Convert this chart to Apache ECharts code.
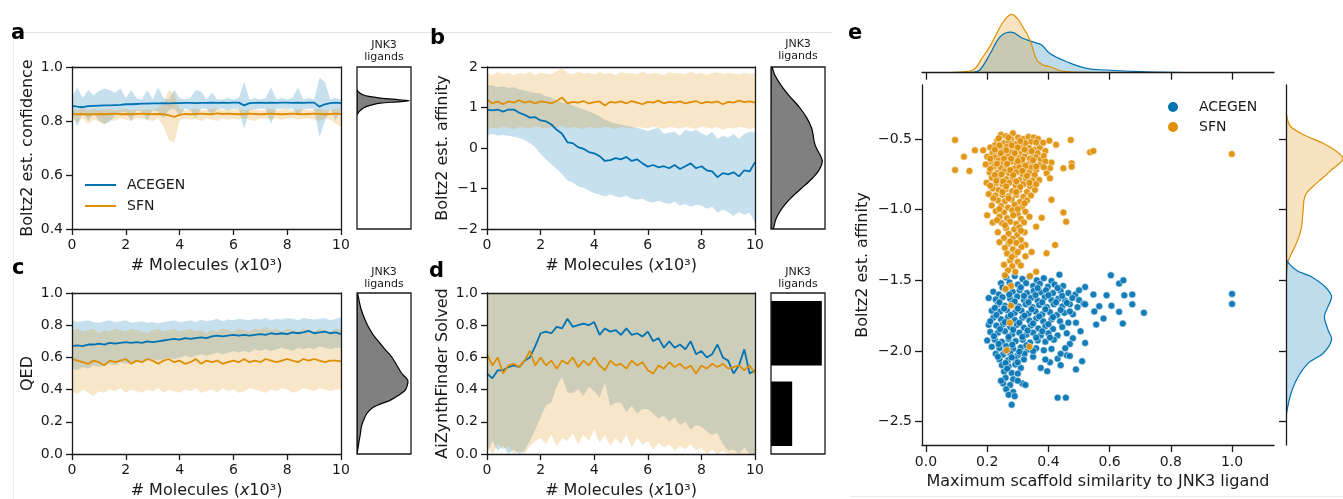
<!DOCTYPE html>
<html>
<head>
<meta charset="utf-8">
<title>ACEGEN vs SFN on JNK3</title>
<script src="https://cdn.jsdelivr.net/npm/echarts@6.0.0/dist/echarts.min.js"></script>
<style>
  html, body { margin: 0; padding: 0; background: #fff; }
  #chart { width: 1343px; height: 499px; }
</style>
</head>
<body>
<div id="chart"></div>
<script>
// ---- data: molecules generated (x10^3) ----
const xs = [0,0.2,0.4,0.6,0.8,1,1.2,1.4,1.6,1.8,2,2.2,2.4,2.6,2.8,3,3.2,3.4,3.6,3.8,4,4.2,4.4,4.6,4.8,5,5.2,5.4,5.6,5.8,6,6.2,6.4,6.6,6.8,7,7.2,7.4,7.6,7.8,8,8.2,8.4,8.6,8.8,9,9.2,9.4,9.6,9.8,10];

// a: Boltz2 est. confidence
const aAceMean = [0.856,0.853,0.851,0.855,0.856,0.857,0.858,0.858,0.859,0.860,0.862,0.862,0.863,0.864,0.864,0.865,0.865,0.866,0.865,0.866,0.866,0.867,0.867,0.866,0.867,0.867,0.868,0.867,0.868,0.867,0.868,0.868,0.858,0.866,0.867,0.868,0.867,0.868,0.867,0.868,0.868,0.867,0.868,0.867,0.868,0.868,0.853,0.862,0.866,0.868,0.866];
const aAceHi = [0.89,0.925,0.885,0.915,0.895,0.91,0.92,0.915,0.905,0.92,0.885,0.915,0.885,0.88,0.915,0.88,0.925,0.885,0.88,0.915,0.885,0.88,0.885,0.915,0.91,0.88,0.905,0.88,0.88,0.885,0.88,0.885,0.945,0.88,0.885,0.88,0.885,0.925,0.88,0.885,0.88,0.885,0.925,0.88,0.885,0.88,0.96,0.945,0.88,0.885,0.88];
const aAceLo = [0.83,0.78,0.835,0.80,0.83,0.80,0.79,0.795,0.82,0.83,0.835,0.80,0.84,0.835,0.80,0.84,0.835,0.81,0.84,0.845,0.82,0.845,0.84,0.81,0.845,0.845,0.82,0.845,0.845,0.84,0.845,0.845,0.77,0.84,0.845,0.845,0.845,0.79,0.845,0.845,0.845,0.845,0.82,0.845,0.845,0.845,0.74,0.80,0.845,0.80,0.845];
const aSfnMean = [0.826,0.825,0.826,0.824,0.825,0.826,0.825,0.826,0.827,0.825,0.826,0.825,0.826,0.827,0.826,0.825,0.826,0.825,0.821,0.815,0.823,0.826,0.825,0.826,0.827,0.826,0.825,0.828,0.826,0.827,0.826,0.825,0.826,0.827,0.826,0.825,0.826,0.827,0.826,0.825,0.826,0.827,0.826,0.825,0.826,0.827,0.826,0.825,0.826,0.827,0.826];
const aSfnHi = [0.845,0.84,0.85,0.84,0.845,0.84,0.843,0.845,0.84,0.842,0.845,0.84,0.843,0.842,0.845,0.84,0.85,0.86,0.915,0.90,0.845,0.84,0.843,0.845,0.84,0.842,0.845,0.848,0.84,0.843,0.842,0.845,0.84,0.843,0.845,0.84,0.842,0.845,0.84,0.843,0.845,0.84,0.842,0.845,0.84,0.843,0.845,0.84,0.842,0.845,0.845];
const aSfnLo = [0.81,0.795,0.81,0.79,0.805,0.80,0.785,0.805,0.80,0.81,0.805,0.80,0.81,0.808,0.805,0.80,0.81,0.78,0.73,0.72,0.80,0.81,0.805,0.808,0.80,0.81,0.805,0.80,0.81,0.805,0.808,0.805,0.81,0.805,0.80,0.81,0.808,0.805,0.81,0.805,0.808,0.81,0.805,0.808,0.81,0.805,0.80,0.81,0.805,0.79,0.78];

// b: Boltz2 est. affinity
const bAceMean = [0.95,0.93,0.95,0.90,0.95,0.95,0.87,0.82,0.75,0.76,0.68,0.66,0.58,0.45,0.35,0.14,0.12,0.02,-0.02,-0.10,-0.13,-0.20,-0.32,-0.30,-0.25,-0.28,-0.22,-0.32,-0.28,-0.38,-0.46,-0.42,-0.48,-0.45,-0.50,-0.42,-0.52,-0.45,-0.38,-0.50,-0.45,-0.55,-0.58,-0.72,-0.62,-0.65,-0.60,-0.70,-0.55,-0.58,-0.35];
const bAceHi = [1.55,1.55,1.50,1.52,1.48,1.50,1.45,1.42,1.38,1.36,1.35,1.28,1.24,1.18,1.12,1.10,1.05,1.00,0.95,0.90,0.85,0.78,0.70,0.65,0.60,0.58,0.55,0.52,0.50,0.46,0.42,0.46,0.50,0.35,0.38,0.40,0.30,0.45,0.40,0.45,0.36,0.30,0.40,0.22,0.30,0.26,0.35,0.22,0.35,0.40,0.40];
const bAceLo = [0.30,0.35,0.30,0.32,0.30,0.28,0.25,0.20,0.12,0.02,-0.15,-0.28,-0.40,-0.52,-0.65,-0.80,-0.85,-0.95,-0.98,-1.05,-1.12,-1.15,-1.20,-1.15,-1.20,-1.22,-1.18,-1.25,-1.28,-1.25,-1.32,-1.35,-1.30,-1.35,-1.38,-1.33,-1.42,-1.38,-1.45,-1.40,-1.42,-1.50,-1.45,-1.60,-1.52,-1.58,-1.68,-1.58,-1.65,-1.60,-1.85];
const bSfnMean = [1.2,1.1,1.15,1.08,1.15,1.12,1.18,1.12,1.15,1.1,1.15,1.13,1.1,1.16,1.25,1.1,1.14,1.12,1.16,1.1,1.13,1.15,1.05,1.14,1.12,1.15,1.1,1.16,1.12,1.08,1.14,1.12,1.17,1.1,1.14,1.12,1.15,1.1,1.13,1.16,1.1,1.14,1.12,1.15,1.08,1.14,1.12,1.17,1.13,1.15,1.12];
const bSfnHi = [1.85,1.80,1.88,1.82,1.86,1.80,1.85,1.83,1.88,1.80,1.86,1.84,1.82,1.90,1.97,1.85,1.82,1.88,1.84,1.86,1.82,1.88,1.83,1.86,1.80,1.87,1.84,1.85,1.82,1.88,1.83,1.86,1.84,1.80,1.87,1.84,1.85,1.82,1.88,1.83,1.86,1.80,1.85,1.87,1.83,1.86,1.84,1.82,1.86,1.83,1.85];
const bSfnLo = [0.45,0.50,0.48,0.52,0.50,0.47,0.52,0.50,0.48,0.53,0.50,0.48,0.52,0.50,0.55,0.48,0.52,0.50,0.47,0.52,0.50,0.48,0.53,0.50,0.47,0.52,0.50,0.48,0.52,0.50,0.48,0.53,0.50,0.47,0.52,0.50,0.48,0.52,0.50,0.47,0.53,0.50,0.48,0.52,0.45,0.50,0.48,0.52,0.50,0.47,0.50];

// c: QED
const cAceMean = [0.67,0.675,0.67,0.68,0.68,0.685,0.68,0.69,0.685,0.69,0.695,0.69,0.695,0.69,0.70,0.695,0.70,0.705,0.71,0.715,0.71,0.72,0.715,0.72,0.725,0.72,0.73,0.735,0.73,0.735,0.74,0.735,0.74,0.735,0.74,0.745,0.74,0.75,0.745,0.75,0.745,0.755,0.75,0.755,0.765,0.75,0.755,0.76,0.75,0.755,0.745];
const cAceHi = [0.83,0.82,0.825,0.83,0.82,0.815,0.825,0.83,0.82,0.825,0.83,0.815,0.82,0.825,0.815,0.82,0.81,0.82,0.825,0.83,0.82,0.825,0.83,0.82,0.835,0.825,0.83,0.84,0.825,0.835,0.83,0.84,0.835,0.83,0.84,0.835,0.845,0.83,0.84,0.835,0.845,0.84,0.83,0.845,0.84,0.835,0.84,0.845,0.83,0.84,0.85];
const cAceLo = [0.53,0.52,0.54,0.53,0.55,0.54,0.55,0.56,0.55,0.57,0.56,0.57,0.58,0.57,0.58,0.59,0.58,0.59,0.60,0.59,0.60,0.61,0.60,0.61,0.62,0.61,0.62,0.63,0.62,0.63,0.64,0.63,0.64,0.63,0.65,0.64,0.65,0.64,0.65,0.66,0.65,0.64,0.66,0.65,0.66,0.65,0.67,0.66,0.65,0.66,0.66];
const cSfnMean = [0.59,0.58,0.57,0.56,0.58,0.57,0.55,0.58,0.57,0.58,0.59,0.56,0.58,0.57,0.59,0.58,0.56,0.58,0.59,0.57,0.58,0.56,0.57,0.59,0.56,0.58,0.57,0.58,0.56,0.57,0.58,0.57,0.59,0.57,0.58,0.57,0.59,0.58,0.57,0.58,0.59,0.58,0.57,0.59,0.58,0.59,0.58,0.57,0.58,0.58,0.575];
const cSfnHi = [0.77,0.78,0.76,0.77,0.78,0.75,0.77,0.76,0.78,0.77,0.76,0.78,0.77,0.76,0.75,0.77,0.78,0.76,0.77,0.78,0.76,0.77,0.78,0.76,0.77,0.75,0.77,0.76,0.78,0.77,0.76,0.78,0.77,0.76,0.78,0.77,0.79,0.77,0.78,0.76,0.78,0.77,0.76,0.78,0.77,0.76,0.78,0.77,0.76,0.78,0.77];
const cSfnLo = [0.39,0.37,0.40,0.38,0.36,0.39,0.38,0.40,0.39,0.41,0.38,0.40,0.39,0.38,0.40,0.39,0.41,0.38,0.40,0.39,0.38,0.40,0.39,0.41,0.38,0.39,0.40,0.38,0.41,0.39,0.40,0.38,0.39,0.41,0.40,0.39,0.38,0.40,0.39,0.41,0.40,0.38,0.39,0.41,0.40,0.39,0.41,0.40,0.39,0.40,0.40];

// d: AiZynthFinder solved
const dAceMean = [0.50,0.47,0.52,0.52,0.54,0.55,0.54,0.58,0.60,0.67,0.75,0.76,0.75,0.79,0.78,0.84,0.79,0.80,0.81,0.80,0.82,0.74,0.78,0.76,0.77,0.74,0.78,0.74,0.75,0.73,0.76,0.70,0.72,0.66,0.70,0.66,0.68,0.65,0.70,0.62,0.64,0.60,0.62,0.68,0.60,0.58,0.50,0.55,0.65,0.50,0.52];
const dAceHi = [1,1,1,1,1,1,1,1,1,1,1,1,1,1,1,1,1,1,1,1,1,1,1,1,1,1,1,1,1,1,1,1,1,1,1,1,1,1,1,1,1,1,1,1,1,1,1,1,1,1,1];
const dAceLo = [0.00,0.08,0.02,0.05,0.00,0.03,0.00,0.02,0.08,0.15,0.23,0.30,0.32,0.42,0.48,0.38,0.38,0.40,0.36,0.42,0.39,0.35,0.44,0.30,0.32,0.32,0.26,0.30,0.25,0.28,0.28,0.25,0.22,0.24,0.20,0.23,0.18,0.20,0.15,0.18,0.17,0.14,0.12,0.13,0.06,0.02,0.03,0.00,0.04,0.00,0.00];
const dSfnMean = [0.62,0.55,0.60,0.50,0.55,0.56,0.54,0.58,0.64,0.55,0.60,0.55,0.58,0.53,0.58,0.56,0.60,0.54,0.58,0.55,0.60,0.55,0.52,0.58,0.55,0.56,0.53,0.58,0.55,0.57,0.52,0.50,0.55,0.53,0.57,0.54,0.56,0.53,0.55,0.50,0.55,0.53,0.56,0.54,0.56,0.53,0.54,0.55,0.52,0.55,0.50];
const dSfnHi = [1,1,1,1,1,1,1,1,1,1,1,1,1,1,1,1,1,1,1,1,1,1,1,1,1,1,1,1,1,1,1,1,1,1,1,1,1,1,1,1,1,1,1,1,1,1,1,1,1,1,1];
const dSfnLo = [0.05,0.00,0.06,0.03,0.05,0.00,0.02,0.00,0.05,0.08,0.10,0.06,0.12,0.05,0.10,0.08,0.13,0.06,0.12,0.08,0.15,0.07,0.12,0.05,0.10,0.06,0.12,0.04,0.10,0.06,0.08,0.03,0.07,0.04,0.06,0.02,0.05,0.03,0.06,0.02,0.04,0.00,0.03,0.00,0.02,0.00,0.00,0.00,0.00,0.00,0.00];

// JNK3 ligand reference distributions: [value, density]
const aSide = [[0.916,0],[0.91,0.02],[0.903,0.06],[0.897,0.11],[0.891,0.22],[0.885,0.43],[0.879,0.75],[0.875,0.97],[0.871,0.75],[0.866,0.43],[0.86,0.28],[0.854,0.18],[0.848,0.12],[0.842,0.08],[0.835,0.04],[0.829,0.02],[0.823,0]];
const bSide = [[2.0,0.02],[1.8,0.07],[1.54,0.19],[1.3,0.33],[1.0,0.53],[0.75,0.66],[0.5,0.75],[0.33,0.78],[0.15,0.8],[0.0,0.84],[-0.15,0.9],[-0.31,0.95],[-0.47,0.92],[-0.64,0.84],[-0.82,0.71],[-1.0,0.56],[-1.22,0.38],[-1.46,0.22],[-1.65,0.13],[-1.8,0.08],[-2.0,0.04]];
const cSide = [[1.0,0.01],[0.95,0.04],[0.896,0.08],[0.84,0.14],[0.79,0.21],[0.74,0.3],[0.69,0.42],[0.645,0.53],[0.604,0.64],[0.55,0.74],[0.5,0.83],[0.458,0.94],[0.425,0.93],[0.396,0.89],[0.365,0.77],[0.333,0.61],[0.31,0.43],[0.29,0.3],[0.25,0.18],[0.2,0.11],[0.167,0.08],[0.12,0.06],[0.083,0.04],[0.04,0.02],[0.0,0.0]];
// d side: [bin low, bin high, count]
const dSide = [[0.05,0.45,30],[0.55,0.95,72]];

// e: scatter of scaffold similarity vs affinity
const eAcePts = [
  [0.262,-1.48],[0.29,-1.47],[0.315,-1.49],[0.338,-1.475],[0.362,-1.5],[0.385,-1.485],[0.41,-1.505],[0.436,-1.46],[0.245,-1.52],[0.273,-1.515],[0.3,-1.53],[0.327,-1.52],[0.35,-1.54],[0.372,-1.525],[0.398,-1.545],[0.42,-1.53],[0.448,-1.54],
  [0.22,-1.58],[0.238,-1.6],[0.26,-1.565],[0.283,-1.58],[0.306,-1.57],[0.33,-1.59],[0.352,-1.575],[0.375,-1.585],[0.392,-1.57],[0.415,-1.59],[0.44,-1.575],[0.465,-1.59],[0.488,-1.6],[0.205,-1.625],[0.228,-1.635],[0.25,-1.62],[0.275,-1.63],[0.298,-1.615],[0.32,-1.64],[0.343,-1.625],[0.365,-1.645],[0.388,-1.62],[0.41,-1.64],[0.432,-1.63],[0.455,-1.645],[0.478,-1.625],[0.5,-1.64],
  [0.235,-1.67],[0.258,-1.68],[0.28,-1.665],[0.303,-1.685],[0.326,-1.67],[0.348,-1.69],[0.37,-1.675],[0.395,-1.69],[0.418,-1.67],[0.445,-1.685],[0.47,-1.67],[0.495,-1.69],[0.515,-1.665],[0.215,-1.715],[0.242,-1.72],[0.265,-1.71],[0.29,-1.73],[0.312,-1.715],[0.335,-1.735],[0.358,-1.72],[0.38,-1.74],[0.405,-1.725],[0.428,-1.745],[0.452,-1.73],[0.48,-1.74],
  [0.22,-1.765],[0.245,-1.775],[0.268,-1.76],[0.29,-1.78],[0.315,-1.765],[0.338,-1.785],[0.36,-1.77],[0.383,-1.79],[0.41,-1.775],[0.438,-1.79],[0.465,-1.8],[0.205,-1.815],[0.23,-1.82],[0.252,-1.81],[0.275,-1.83],[0.297,-1.815],[0.32,-1.835],[0.343,-1.82],[0.367,-1.84],[0.39,-1.825],[0.415,-1.845],[0.445,-1.83],
  [0.21,-1.865],[0.235,-1.87],[0.258,-1.86],[0.282,-1.88],[0.305,-1.87],[0.328,-1.885],[0.35,-1.87],[0.375,-1.89],[0.4,-1.875],[0.43,-1.89],[0.46,-1.875],[0.2,-1.925],[0.225,-1.92],[0.248,-1.935],[0.27,-1.915],[0.293,-1.93],[0.316,-1.92],[0.34,-1.94],[0.365,-1.925],[0.39,-1.935],[0.418,-1.92],[0.48,-1.91],[0.52,-1.943],
  [0.215,-1.97],[0.24,-1.98],[0.262,-1.965],[0.285,-1.985],[0.31,-1.975],[0.333,-1.99],[0.36,-1.98],[0.385,-1.995],[0.41,-1.985],[0.228,-2.02],[0.252,-2.025],[0.275,-2.015],[0.3,-2.03],[0.322,-2.02],[0.35,-2.04],[0.43,-2.054],[0.46,-2.03],[0.47,-2.035],[0.51,-2.072],[0.24,-2.06],[0.268,-2.065],[0.29,-2.055],[0.375,-2.12],[0.396,-2.143],[0.405,-2.08],[0.44,-2.1],[0.49,-2.13],
  [0.248,-2.1],[0.27,-2.11],[0.292,-2.095],[0.31,-2.12],[0.255,-2.145],[0.28,-2.155],[0.3,-2.16],[0.26,-2.19],[0.285,-2.2],[0.252,-2.23],[0.275,-2.24],[0.315,-2.23],[0.325,-2.24],[0.262,-2.27],[0.285,-2.29],[0.27,-2.31],[0.29,-2.32],[0.28,-2.38],[0.43,-2.33],[0.457,-2.33],
  [0.604,-1.464],[0.631,-1.523],[0.645,-1.5],[0.59,-1.606],[0.648,-1.606],[0.674,-1.6],[0.674,-1.67],[0.712,-1.73],[0.643,-1.806],[0.631,-1.723],[0.606,-1.68],[0.58,-1.77],[0.556,-1.813],[0.55,-1.72],[0.566,-1.683],[0.547,-1.6],[0.52,-1.547],[0.52,-1.67],[1.0,-1.596],[1.0,-1.667],
  [0.25,-1.55],[0.31,-1.55],[0.365,-1.555],[0.43,-1.555],[0.272,-1.6],[0.32,-1.61],[0.358,-1.605],[0.4,-1.605],[0.445,-1.61],[0.24,-1.655],[0.29,-1.65],[0.335,-1.655],[0.38,-1.655],[0.425,-1.655],[0.46,-1.66],[0.225,-1.695],[0.255,-1.7],[0.3,-1.7],[0.345,-1.705],[0.39,-1.705],[0.44,-1.71],[0.23,-1.745],[0.277,-1.745],[0.322,-1.75],[0.37,-1.755],[0.415,-1.76],[0.21,-1.79],[0.258,-1.795],[0.305,-1.8],[0.35,-1.805],[0.4,-1.81],[0.242,-1.845],[0.285,-1.85],[0.332,-1.855],[0.38,-1.86],[0.222,-1.895],[0.27,-1.9],[0.315,-1.9],[0.36,-1.905],[0.405,-1.905],[0.237,-1.95],[0.282,-1.955],[0.328,-1.96],[0.35,-2.0],[0.26,-2.0],[0.305,-2.005],[0.235,-2.04],[0.28,-2.045],[0.32,-2.06],[0.26,-2.085],[0.3,-2.08],[0.265,-2.125],[0.245,-2.21],[0.3,-2.21],[0.5,-1.57],[0.47,-1.72],[0.49,-1.8],[0.505,-1.86],[0.47,-1.95],[0.455,-1.98],[0.44,-2.02],[0.39,-2.06]
];
const eSfnPts = [
  [0.245,-0.47],[0.262,-0.48],[0.284,-0.46],[0.301,-0.49],[0.278,-0.5],[0.233,-0.51],[0.318,-0.5],[0.335,-0.485],[0.352,-0.49],[0.366,-0.5],[0.343,-0.52],[0.255,-0.53],[0.27,-0.52],[0.292,-0.535],[0.225,-0.545],[0.31,-0.555],[0.325,-0.53],[0.21,-0.56],[0.248,-0.565],[0.265,-0.555],[0.283,-0.57],[0.298,-0.58],[0.338,-0.565],[0.356,-0.575],[0.372,-0.56],[0.232,-0.59],[0.217,-0.6],[0.258,-0.6],[0.276,-0.595],[0.314,-0.6],[0.33,-0.59],[0.349,-0.605],[0.365,-0.6],[0.39,-0.585],
  [0.2,-0.625],[0.225,-0.63],[0.243,-0.62],[0.268,-0.625],[0.29,-0.615],[0.305,-0.635],[0.322,-0.625],[0.34,-0.64],[0.36,-0.63],[0.375,-0.645],[0.212,-0.66],[0.236,-0.655],[0.252,-0.67],[0.28,-0.66],[0.297,-0.675],[0.315,-0.665],[0.333,-0.68],[0.35,-0.67],[0.37,-0.685],[0.222,-0.695],[0.245,-0.705],[0.263,-0.69],[0.287,-0.71],[0.305,-0.7],[0.325,-0.715],[0.343,-0.705],[0.36,-0.72],[0.208,-0.735],[0.232,-0.74],[0.256,-0.73],[0.272,-0.745],[0.295,-0.735],[0.316,-0.75],[0.338,-0.74],[0.355,-0.755],
  [0.215,-0.775],[0.24,-0.77],[0.262,-0.785],[0.283,-0.775],[0.305,-0.79],[0.327,-0.78],[0.348,-0.795],[0.37,-0.79],[0.198,-0.81],[0.228,-0.815],[0.25,-0.82],[0.272,-0.81],[0.293,-0.83],[0.318,-0.82],[0.34,-0.835],[0.218,-0.85],[0.238,-0.86],[0.26,-0.855],[0.282,-0.87],[0.305,-0.86],[0.33,-0.875],[0.356,-0.86],[0.205,-0.89],[0.227,-0.9],[0.25,-0.895],[0.27,-0.905],[0.295,-0.895],[0.318,-0.91],[0.343,-0.9],[0.235,-0.935],[0.258,-0.94],[0.28,-0.93],[0.307,-0.945],[0.33,-0.935],
  [0.215,-0.97],[0.245,-0.975],[0.268,-0.985],[0.29,-0.965],[0.315,-0.98],[0.228,-1.01],[0.255,-1.02],[0.282,-1.005],[0.3,-1.03],[0.325,-1.015],[0.2,-1.04],[0.24,-1.05],[0.265,-1.06],[0.31,-1.065],[0.338,-1.05],[0.218,-1.09],[0.248,-1.095],[0.275,-1.085],[0.295,-1.1],[0.32,-1.09],[0.262,-1.13],[0.288,-1.14],[0.305,-1.125],[0.235,-1.16],[0.27,-1.17],[0.298,-1.18],[0.322,-1.16],[0.255,-1.2],[0.283,-1.205],[0.31,-1.215],
  [0.24,-1.23],[0.27,-1.24],[0.295,-1.235],[0.325,-1.25],[0.258,-1.27],[0.284,-1.28],[0.312,-1.265],[0.345,-1.3],[0.265,-1.31],[0.29,-1.32],[0.325,-1.33],[0.275,-1.36],[0.3,-1.37],[0.255,-1.39],[0.282,-1.4],[0.31,-1.395],[0.268,-1.43],[0.292,-1.44],
  [0.095,-0.507],[0.124,-0.625],[0.095,-0.72],[0.142,-0.726],[0.16,-0.58],[0.187,-0.58],[0.383,-0.526],[0.403,-0.512],[0.425,-0.54],[0.473,-0.507],[0.536,-0.594],[0.547,-0.585],[0.476,-0.672],[0.476,-0.696],[0.449,-0.707],[0.41,-0.667],[0.405,-0.707],[0.394,-0.743],[0.405,-0.778],[0.41,-0.93],[0.449,-1.02],[0.458,-1.085],[0.422,-1.25],[0.394,-1.308],[0.378,-1.057],[0.36,-1.12],[0.999,-0.606],
  [0.258,-1.464],[0.278,-1.54],[0.26,-1.56],[0.278,-1.68],[0.274,-1.8],[0.338,-1.97],[0.264,-1.995],[0.34,-1.47],[0.36,-1.44],
  [0.238,-0.495],[0.27,-0.49],[0.308,-0.515],[0.36,-0.525],[0.24,-0.545],[0.28,-0.545],[0.3,-0.56],[0.345,-0.585],[0.225,-0.575],[0.262,-0.58],[0.322,-0.575],[0.29,-0.6],[0.245,-0.6],[0.21,-0.64],[0.255,-0.64],[0.278,-0.64],[0.315,-0.645],[0.35,-0.65],[0.232,-0.675],[0.265,-0.675],[0.3,-0.655],[0.325,-0.69],[0.36,-0.695],[0.21,-0.71],[0.275,-0.72],[0.315,-0.725],[0.247,-0.75],[0.285,-0.755],[0.33,-0.76],[0.225,-0.755],[0.23,-0.795],[0.252,-0.8],[0.295,-0.8],[0.338,-0.81],[0.36,-0.82],[0.21,-0.83],[0.262,-0.835],[0.308,-0.84],[0.25,-0.875],[0.295,-0.875],[0.22,-0.92],[0.27,-0.92],[0.322,-0.955],[0.24,-0.995],[0.3,-0.995],[0.285,-1.04],[0.232,-1.075],[0.258,-1.11],[0.31,-1.15],[0.275,-1.225],[0.3,-1.3],[0.28,-1.335],[0.195,-0.68],[0.385,-0.62],[0.39,-0.66],[0.385,-0.7]
];
// marginal KDEs: top is [similarity, density], right is [affinity, density]
const eTopAce = [[0.12,0],[0.155,0.05],[0.176,0.3],[0.21,2.14],[0.242,4.0],[0.277,4.52],[0.318,3.81],[0.35,3.44],[0.378,3.08],[0.405,2.14],[0.46,1.22],[0.525,0.48],[0.59,0.3],[0.7,0.11],[0.8,0.03],[0.9,0.01],[1.0,0.01],[1.05,0]];
const eTopSfn = [[0.05,0],[0.08,0.02],[0.12,0.1],[0.155,0.33],[0.186,1.78],[0.21,3.0],[0.23,4.33],[0.255,5.8],[0.28,6.52],[0.3,6.0],[0.313,5.3],[0.34,3.63],[0.362,1.41],[0.383,0.86],[0.405,0.67],[0.44,0.22],[0.48,0.08],[0.55,0.02],[0.6,0]];
const eRightAce = [[-1.28,0],[-1.356,0.01],[-1.43,0.18],[-1.47,0.4],[-1.545,0.65],[-1.615,0.76],[-1.686,0.7],[-1.757,0.64],[-1.85,0.7],[-1.92,0.76],[-2.016,0.62],[-2.086,0.37],[-2.2,0.18],[-2.32,0.07],[-2.44,0.01],[-2.5,0]];
const eRightSfn = [[-0.30,0],[-0.33,0.01],[-0.37,0.03],[-0.41,0.07],[-0.47,0.29],[-0.53,0.62],[-0.59,0.85],[-0.637,0.95],[-0.67,0.9],[-0.707,0.79],[-0.75,0.68],[-0.79,0.57],[-0.84,0.44],[-0.884,0.34],[-0.93,0.3],[-0.98,0.29],[-1.03,0.28],[-1.12,0.26],[-1.2,0.21],[-1.26,0.15],[-1.33,0.07],[-1.37,0.03],[-1.45,0.01],[-1.55,0]];
const eXTicks = [0, 0.2, 0.4, 0.6, 0.8, 1.0];
const eYTicks = [-2.5, -2.0, -1.5, -1.0, -0.5];

// ---- styling ----
const FONT = 'DejaVu Sans';
const INK = '#1a1a1a';
const BLUE = '#0173b2';
const ORANGE = '#de8f05';
const BLUE_FILL = 'rgba(1,115,178,0.22)';
const ORANGE_FILL = 'rgba(222,143,5,0.22)';
const BLUE_KDE = 'rgba(1,115,178,0.25)';
const ORANGE_KDE = 'rgba(222,143,5,0.25)';

const chart = echarts.init(document.getElementById('chart'));

const minus = s => s.replace('-', '\u2212');
const textBase = { fontFamily: FONT, fontSize: 14, color: INK };
const nameBase = { fontFamily: FONT, fontSize: 16, color: INK };
const axisLine = { show: true, onZero: false, lineStyle: { color: INK, width: 1.3 } };
const ticks = len => ({ show: true, inside: false, length: len, lineStyle: { color: INK, width: 1.3 } });
const molName = '# Molecules ({it|x}10\u00b3)';

const panels = [
  { grid: [72, 67, 269, 162], side: [357, 67, 54, 162], yMin: 0.4, yMax: 1.0, yStep: 0.2, digits: 1,
    yName: 'Boltz2 est. confidence', ace: [aAceMean, aAceLo, aAceHi], sfn: [aSfnMean, aSfnLo, aSfnHi], curve: aSide },
  { grid: [487, 67, 268, 162], side: [771, 67, 54, 162], yMin: -2, yMax: 2, yStep: 1, digits: 0,
    yName: 'Boltz2 est. affinity', ace: [bAceMean, bAceLo, bAceHi], sfn: [bSfnMean, bSfnLo, bSfnHi], curve: bSide },
  { grid: [72, 293, 269, 161], side: [357, 293, 54, 161], yMin: 0, yMax: 1.0, yStep: 0.2, digits: 1,
    yName: 'QED', ace: [cAceMean, cAceLo, cAceHi], sfn: [cSfnMean, cSfnLo, cSfnHi], curve: cSide },
  { grid: [487, 293, 268, 161], side: [771, 293, 54, 161], yMin: 0, yMax: 1.0, yStep: 0.2, digits: 1,
    yName: 'AiZynthFinder Solved', ace: [dAceMean, dAceLo, dAceHi], sfn: [dSfnMean, dSfnLo, dSfnHi], bins: dSide }
];

const grids = [], xAxes = [], yAxes = [], series = [];

function addGrid(box, extra) {
  grids.push(Object.assign({ left: box[0], top: box[1], width: box[2], height: box[3], containLabel: false, outerBoundsMode: 'none' }, extra || {}));
  return grids.length - 1;
}

// min-max band drawn as one polygon: upper edge forward, lower edge back
function band(xi, yi, lo, hi, fill) {
  return {
    type: 'custom', xAxisIndex: xi, yAxisIndex: yi, clip: true, silent: true, z: 1,
    data: xs.map((x, i) => [x, lo[i], hi[i]]),
    encode: { x: 0, y: [1, 2] },
    renderItem: (params, api) => {
      if (params.dataIndex !== 0) return null;
      const top = xs.map((x, i) => api.coord([x, hi[i]]));
      const bottom = xs.map((x, i) => api.coord([x, lo[i]])).reverse();
      return { type: 'polygon', shape: { points: top.concat(bottom) }, style: { fill } };
    }
  };
}

function meanLine(name, xi, yi, vals, color) {
  return { type: 'line', name, xAxisIndex: xi, yAxisIndex: yi, data: xs.map((x, i) => [x, vals[i]]),
    symbol: 'none', color, lineStyle: { color, width: 1.8 }, z: 3 };
}

// horizontal density (value on y, density on x) filled toward x = 0
function densitySeries(xi, yi, curve, fill, stroke) {
  return {
    type: 'custom', xAxisIndex: xi, yAxisIndex: yi, clip: true, silent: true, z: 2,
    data: curve.map(c => [c[1], c[0]]),
    renderItem: (params, api) => {
      if (params.dataIndex !== 0) return null;
      const pts = [[0, curve[0][0]]].concat(curve.map(c => [c[1], c[0]]), [[0, curve[curve.length - 1][0]]])
        .map(p => api.coord(p));
      return { type: 'polygon', shape: { points: pts, smooth: 0.3 }, style: { fill, stroke, lineWidth: 1.2 } };
    }
  };
}

panels.forEach(p => {
  const g = addGrid(p.grid);
  const xi = xAxes.push({ gridIndex: g, type: 'value', position: 'bottom', min: 0, max: 10, interval: 2, z: 10,
    axisLine, axisTick: ticks(6), splitLine: { show: false },
    axisLabel: Object.assign({ margin: 9 }, textBase),
    name: molName, nameLocation: 'middle', nameGap: 29,
    nameTextStyle: Object.assign({ rich: { it: Object.assign({ fontStyle: 'italic' }, nameBase) } }, nameBase) }) - 1;
  const yi = yAxes.push({ gridIndex: g, type: 'value', position: 'left', min: p.yMin, max: p.yMax, interval: p.yStep, z: 10,
    axisLine, axisTick: ticks(6), splitLine: { show: false },
    axisLabel: Object.assign({ margin: 9, formatter: v => minus(v.toFixed(p.digits)) }, textBase),
    name: p.yName, nameLocation: 'middle', nameGap: 36, nameTextStyle: nameBase }) - 1;
  // frame: top and right spines
  xAxes.push({ gridIndex: g, type: 'value', position: 'top', min: 0, max: 10, z: 10, axisLine,
    axisTick: { show: false }, axisLabel: { show: false }, splitLine: { show: false } });
  yAxes.push({ gridIndex: g, type: 'value', position: 'right', min: p.yMin, max: p.yMax, z: 10, axisLine,
    axisTick: { show: false }, axisLabel: { show: false }, splitLine: { show: false } });

  series.push(band(xi, yi, p.ace[1], p.ace[2], BLUE_FILL));
  series.push(band(xi, yi, p.sfn[1], p.sfn[2], ORANGE_FILL));
  series.push(meanLine('ACEGEN', xi, yi, p.ace[0], BLUE));
  series.push(meanLine('SFN', xi, yi, p.sfn[0], ORANGE));

  // JNK3 ligand side panel
  const gs = addGrid(p.side, { show: true, borderColor: INK, borderWidth: 1.3, backgroundColor: 'transparent', z: 5 });
  const sideMax = p.bins ? 76.5 : 1.0;
  const sxi = xAxes.push({ gridIndex: gs, type: 'value', show: false, min: 0, max: sideMax }) - 1;
  const syi = yAxes.push({ gridIndex: gs, type: 'value', show: false, min: p.yMin, max: p.yMax }) - 1;
  if (p.curve) {
    series.push(densitySeries(sxi, syi, p.curve, '#808080', '#000'));
  } else {
    series.push({
      type: 'custom', xAxisIndex: sxi, yAxisIndex: syi, silent: true, data: p.bins,
      renderItem: (params, api) => {
        const a = api.coord([0, api.value(1)]);
        const b = api.coord([api.value(2), api.value(0)]);
        return { type: 'rect', shape: { x: a[0], y: a[1], width: b[0] - a[0], height: b[1] - a[1] }, style: { fill: '#000' } };
      }
    });
  }
});

// ---- panel e ----
const eMain = addGrid([922, 85, 352, 360]);
const eTop = addGrid([922, 10, 352, 62.7]);
const eRight = addGrid([1286, 85, 60, 360]);
const exMin = -0.013, exMax = 1.137, eyMin = -2.665, eyMax = -0.118;

const exi = xAxes.push({ gridIndex: eMain, type: 'value', min: exMin, max: exMax, z: 10, axisLine,
  axisTick: Object.assign(ticks(7), { customValues: eXTicks }), splitLine: { show: false },
  axisLabel: Object.assign({ margin: 10, customValues: eXTicks, formatter: v => v.toFixed(1) }, textBase),
  name: 'Maximum scaffold similarity to JNK3 ligand', nameLocation: 'middle', nameGap: 28, nameTextStyle: nameBase }) - 1;
const eyi = yAxes.push({ gridIndex: eMain, type: 'value', min: eyMin, max: eyMax, z: 10, axisLine,
  axisTick: Object.assign(ticks(7), { customValues: eYTicks }), splitLine: { show: false },
  axisLabel: Object.assign({ margin: 10, customValues: eYTicks, formatter: v => minus(v.toFixed(1)) }, textBase),
  name: 'Boltz2 est. affinity', nameLocation: 'middle', nameGap: 51, nameTextStyle: nameBase }) - 1;

const etxi = xAxes.push({ gridIndex: eTop, type: 'value', min: exMin, max: exMax, z: 10, axisLine,
  axisTick: Object.assign(ticks(7), { customValues: eXTicks }), axisLabel: { show: false }, splitLine: { show: false } }) - 1;
const etyi = yAxes.push({ gridIndex: eTop, type: 'value', show: false, min: 0, max: 7 }) - 1;
const erxi = xAxes.push({ gridIndex: eRight, type: 'value', show: false, min: 0, max: 1 }) - 1;
const eryi = yAxes.push({ gridIndex: eRight, type: 'value', position: 'left', min: eyMin, max: eyMax, z: 10, axisLine,
  axisTick: Object.assign(ticks(7), { customValues: eYTicks }), axisLabel: { show: false }, splitLine: { show: false } }) - 1;

series.push({ type: 'scatter', name: 'ACEGEN', xAxisIndex: exi, yAxisIndex: eyi, data: eAcePts, symbolSize: 7,
  itemStyle: { color: BLUE, borderColor: '#fff', borderWidth: 0.6, opacity: 0.92 }, z: 3 });
series.push({ type: 'scatter', name: 'SFN', xAxisIndex: exi, yAxisIndex: eyi, data: eSfnPts, symbolSize: 7,
  itemStyle: { color: ORANGE, borderColor: '#fff', borderWidth: 0.6, opacity: 0.92 }, z: 3 });

[[eTopAce, BLUE, BLUE_KDE], [eTopSfn, ORANGE, ORANGE_KDE]].forEach(([d, c, f]) => {
  series.push({ type: 'line', xAxisIndex: etxi, yAxisIndex: etyi, data: d, smooth: 0.4, symbol: 'none', silent: true,
    lineStyle: { color: c, width: 1.2 }, areaStyle: { color: f, opacity: 1 }, z: 2 });
});
series.push(densitySeries(erxi, eryi, eRightSfn, ORANGE_KDE, ORANGE));
series.push(densitySeries(erxi, eryi, eRightAce, BLUE_KDE, BLUE));

// ---- titles ----
const letter = (t, l, top) => ({ text: t, left: l, top, padding: 0,
  textStyle: { fontFamily: FONT, fontSize: 21, fontWeight: 'bold', color: '#000' } });
const sideTitle = (l, top) => ({ text: 'JNK3\nligands', left: l, top, padding: 0, textAlign: 'center',
  textStyle: { fontFamily: FONT, fontSize: 11, fontWeight: 'normal', lineHeight: 12.3, color: INK } });

chart.setOption({
  animation: false,
  backgroundColor: '#fff',
  title: [
    letter('a', 11, 23), letter('b', 430, 28), letter('c', 12, 258), letter('d', 429, 261), letter('e', 848, 23),
    sideTitle(384, 39), sideTitle(798, 38), sideTitle(384, 266), sideTitle(798, 266)
  ],
  legend: [
    { data: [{ name: 'ACEGEN', icon: 'rect' }, { name: 'SFN', icon: 'rect' }], orient: 'vertical', left: 85, top: 178,
      padding: 0, itemWidth: 31, itemHeight: 2, itemGap: 7, selectedMode: false, itemStyle: { borderWidth: 0 },
      textStyle: Object.assign({ padding: [0, 0, 0, 6] }, textBase) },
    { data: [{ name: 'ACEGEN', icon: 'circle' }, { name: 'SFN', icon: 'circle' }], orient: 'vertical', left: 1168, top: 100,
      padding: 0, itemWidth: 10, itemHeight: 10, itemGap: 6, selectedMode: false, itemStyle: { borderWidth: 0 },
      textStyle: Object.assign({ padding: [0, 0, 0, 16] }, textBase) }
  ],
  grid: grids,
  xAxis: xAxes,
  yAxis: yAxes,
  series,
  graphic: [
    { type: 'line', silent: true, shape: { x1: 13, y1: 32.5, x2: 832, y2: 32.5 }, style: { stroke: '#e4e4e4', lineWidth: 1 } },
    { type: 'line', silent: true, shape: { x1: 13.5, y1: 32.5, x2: 13.5, y2: 499 }, style: { stroke: '#ececec', lineWidth: 1 } },
    { type: 'line', silent: true, shape: { x1: 850, y1: 496.5, x2: 1343, y2: 496.5 }, style: { stroke: '#ececec', lineWidth: 1 } }
  ]
});
</script>
</body>
</html>
